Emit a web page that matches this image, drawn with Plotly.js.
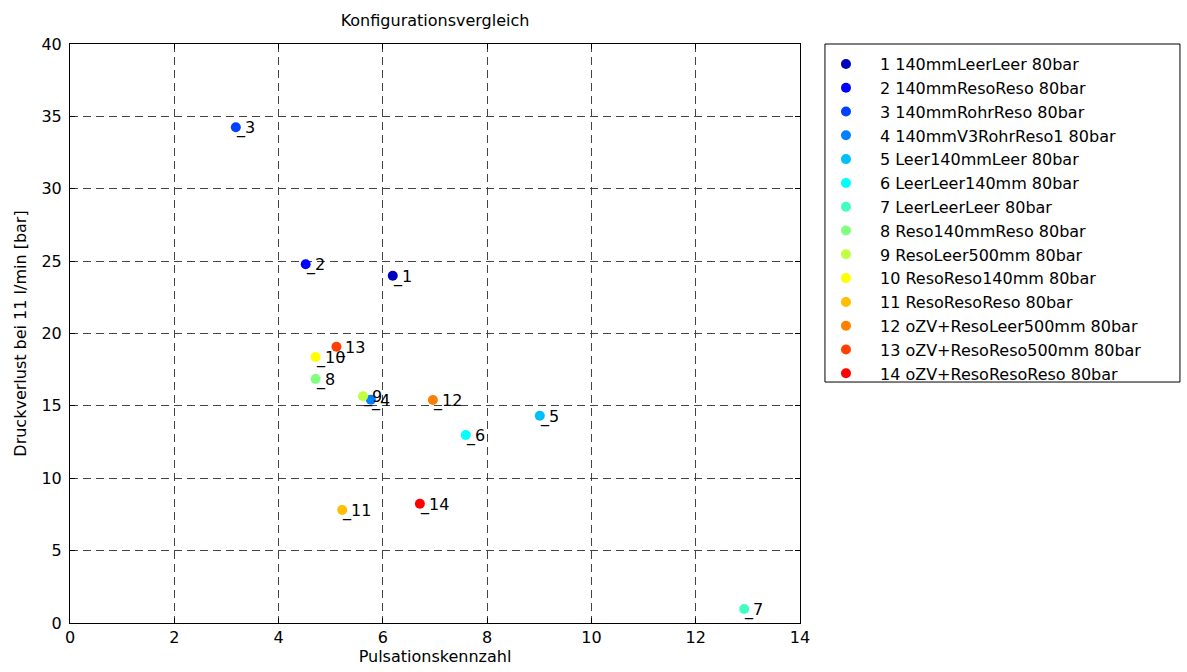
<!DOCTYPE html>
<html>
<head>
<meta charset="utf-8">
<script src="https://cdn.plot.ly/plotly-3.0.1.min.js"></script>
<style>body{margin:0;background:#fff}#chart{width:1187px;height:672px}</style>
</head>
<body>
<div id="chart"></div>
<script>
const names = [
  "1 140mmLeerLeer 80bar",
  "2 140mmResoReso 80bar",
  "3 140mmRohrReso 80bar",
  "4 140mmV3RohrReso1 80bar",
  "5 Leer140mmLeer 80bar",
  "6 LeerLeer140mm 80bar",
  "7 LeerLeerLeer 80bar",
  "8 Reso140mmReso 80bar",
  "9 ResoLeer500mm 80bar",
  "10 ResoReso140mm 80bar",
  "11 ResoResoReso 80bar",
  "12 oZV+ResoLeer500mm 80bar",
  "13 oZV+ResoReso500mm 80bar",
  "14 oZV+ResoResoReso 80bar"
];
const pointLabels = ["_1","_2","_3","_4","_5","_6","_7","_8","_9","_10","_11","_12","_13","_14"];
const pulsation = [6.19, 4.52, 3.18, 5.77, 9.01, 7.59, 12.93, 4.71, 5.62, 4.71, 5.22, 6.96, 5.11, 6.71];
const druckverlust = [23.99, 24.78, 34.25, 15.43, 14.32, 12.99, 0.97, 16.86, 15.66, 18.38, 7.81, 15.41, 19.09, 8.24];
const colors = ["#0000BF","#0000FF","#0040FF","#0080FF","#00BFFF","#00FFFF","#40FFBF","#80FF80","#BFFF40","#FFFF00","#FFBF00","#FF8000","#FF4000","#FF0000"];

const font = "DejaVu Sans, sans-serif";
const traces = names.map((n, i) => ({
  type: "scatter", mode: "markers",
  x: [pulsation[i]], y: [druckverlust[i]],
  name: n,
  marker: {color: colors[i], size: 10},
  hoverinfo: "x+y+name"
}));

const annotations = pointLabels.map((t, i) => ({
  x: pulsation[i], y: druckverlust[i], xref: "x", yref: "y",
  text: t, showarrow: false, xanchor: "left", yanchor: "middle",
  xshift: -2, yshift: -1,
  font: {family: font, size: 16, color: "#000"}
}));

const layout = {
  width: 1187, height: 672,
  margin: {l: 70, r: 387, t: 44, b: 49},
  paper_bgcolor: "#fff", plot_bgcolor: "#fff",
  font: {family: font, size: 16, color: "#000"},
  title: {text: "Konfigurationsvergleich", x: 0.3665, xref: "container", xanchor: "center", y: 0.969, yref: "container", yanchor: "middle", font: {family: font, size: 16, color: "#000"}},
  xaxis: {
    range: [0, 14], dtick: 2, tick0: 0, zeroline: false,
    showgrid: true, gridcolor: "#444", griddash: "8px,5px", gridwidth: 1,
    showline: true, linecolor: "#000", linewidth: 1, mirror: "ticks",
    ticks: "inside", ticklen: 5, tickcolor: "#000",
    tickfont: {family: font, size: 16},
    title: {text: "Pulsationskennzahl", standoff: 4, font: {family: font, size: 16}}
  },
  yaxis: {
    range: [0, 40], dtick: 5, tick0: 0, zeroline: false,
    showgrid: true, gridcolor: "#444", griddash: "8px,5px", gridwidth: 1,
    showline: true, linecolor: "#000", linewidth: 1, mirror: "ticks",
    ticks: "inside", ticklen: 5, tickcolor: "#000",
    tickfont: {family: font, size: 16}, ticklabelstandoff: 4,
    title: {text: "Druckverlust bei 11 l/min [bar]", standoff: 10, font: {family: font, size: 16}}
  },
  showlegend: true,
  legend: {
    x: 1.0164, xanchor: "left", y: 0.9948, yanchor: "top",
    bgcolor: "rgba(0,0,0,0)", borderwidth: 0,
    font: {family: font, size: 16, color: "#000"},
    tracegroupgap: 0, itemwidth: 58, itemclick: false
  },
  shapes: [{
    type: "rect", xref: "paper", yref: "paper",
    x0: 1.0342, x1: 1.5205, y0: 0.4162, y1: 1,
    line: {color: "#000", width: 1}, fillcolor: "rgba(0,0,0,0)"
  }],
  annotations: annotations
};

Plotly.newPlot("chart", traces, layout, {displayModeBar: false, staticPlot: true});
</script>
</body>
</html>
